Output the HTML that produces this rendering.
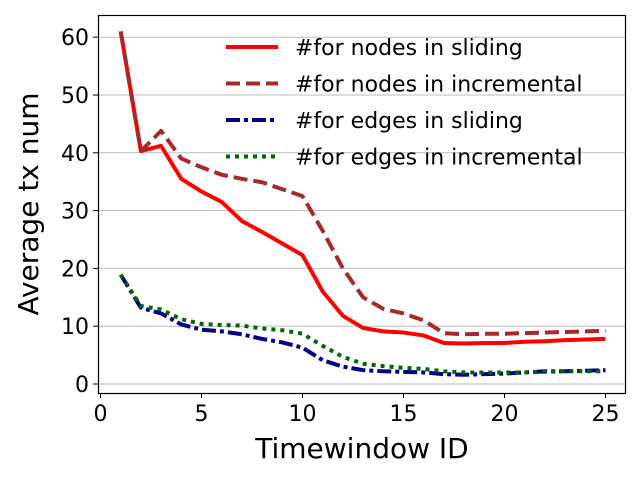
<!DOCTYPE html>
<html><head><meta charset="utf-8"><style>
body{margin:0;background:#fff;}
svg{font-family:"DejaVu Sans","Liberation Sans",sans-serif;}
</style></head><body>
<svg id="chart" width="640" height="480">
<g id="grid"></g>
<g id="lines"></g>
<rect x="98.5" y="15.5" width="527" height="378" fill="none" stroke="#000" stroke-width="1.2"/>
<g id="ticks"></g>
<text x="362" y="458" font-size="28" text-anchor="middle">Timewindow ID</text>
<text transform="translate(38,204) rotate(-90)" font-size="28" text-anchor="middle">Average tx num</text>
<g id="legend"></g>
</svg>
<script>
const xs=[1,2,3,4,5,6,7,8,9,10,11,12,13,14,15,16,17,18,19,20,21,22,23,24,25];
const nodesSliding=[61,40.3,41.2,35.5,33.3,31.5,28.2,26.3,24.3,22.3,16,11.8,9.7,9.1,8.9,8.4,7.1,7.0,7.1,7.1,7.3,7.4,7.6,7.7,7.8];
const nodesIncremental=[61,40.3,43.8,39,37.5,36.2,35.5,34.9,33.7,32.5,26.5,20,15,13,12.2,11,8.8,8.6,8.7,8.7,8.8,8.9,9,9.1,9.2];
const edgesSliding=[18.9,13.2,12.2,10.3,9.4,9.1,8.6,7.8,7.2,6.3,4.1,3,2.4,2.2,2.1,2.0,1.7,1.6,1.7,1.8,2.0,2.2,2.2,2.3,2.4];
const edgesIncremental=[18.9,13.5,12.9,11.2,10.4,10.2,10.1,9.6,9.3,8.7,6.6,4.7,3.5,3.1,2.8,2.6,2.2,2.0,2.0,2.0,2.0,2.1,2.2,2.2,2.2];
const xTicks=[0,5,10,15,20,25];
const yTicks=[0,10,20,30,40,50,60];
const legendLabels=["#for nodes in sliding","#for nodes in incremental","#for edges in sliding","#for edges in incremental"];
const NS="http://www.w3.org/2000/svg";
function X(v){return 100.5+v*20.2;}
function Y(v){return 384-v*5.78;}
function mk(t,a,p){const e=document.createElementNS(NS,t);for(const k in a)e.setAttribute(k,a[k]);p.appendChild(e);return e;}
const grid=document.getElementById('grid'),ticks=document.getElementById('ticks'),lines=document.getElementById('lines'),leg=document.getElementById('legend');
yTicks.forEach(v=>{
 const g=mk('line',{x1:98,x2:626,y1:Y(v),y2:Y(v),stroke:'#bbb','stroke-width':1},grid);
 
 
 mk('line',{x1:93,x2:98,y1:Y(v),y2:Y(v),stroke:'#000'},ticks);
 const t=mk('text',{x:89,y:Y(v)+8,'font-size':22,'text-anchor':'end'},ticks);t.textContent=v;
 
 
});
xTicks.forEach(v=>{
 mk('line',{x1:X(v),x2:X(v),y1:393,y2:398,stroke:'#000'},ticks);
 const t=mk('text',{x:X(v),y:421,'font-size':22,'text-anchor':'middle'},ticks);t.textContent=v;
 
 
});
const styles=[
 {c:'#ff0000',d:'',cap:'butt'},
 {c:'#a52a2a',d:'14,6',cap:'butt'},
 {c:'#00008b',d:'14,4,4,4',cap:'butt'},
 {c:'#006400',d:'4,5',cap:'butt'}];
const series=[nodesSliding,nodesIncremental,edgesSliding,edgesIncremental];
const names=['line-nodes-sliding','line-nodes-incremental','line-edges-sliding','line-edges-incremental'];
series.forEach((s,i)=>{
 const pts=s.map((v,j)=>X(xs[j])+','+Y(v)).join(' ');
 const p=mk('polyline',{points:pts,fill:'none',stroke:styles[i].c,'stroke-width':4,'stroke-dasharray':styles[i].d,'stroke-linejoin':'round'},lines);
 
 
});
legendLabels.forEach((l,i)=>{
 const y=47+i*36.5;
 const g=mk('g',{},leg);
 
 
 mk('line',{x1:226,x2:278,y1:y,y2:y,stroke:styles[i].c,'stroke-width':4,'stroke-dasharray':styles[i].d},g);
 const t=mk('text',{x:295,y:y+8,'font-size':22},g);t.textContent=l;
});
</script>
</body></html>
